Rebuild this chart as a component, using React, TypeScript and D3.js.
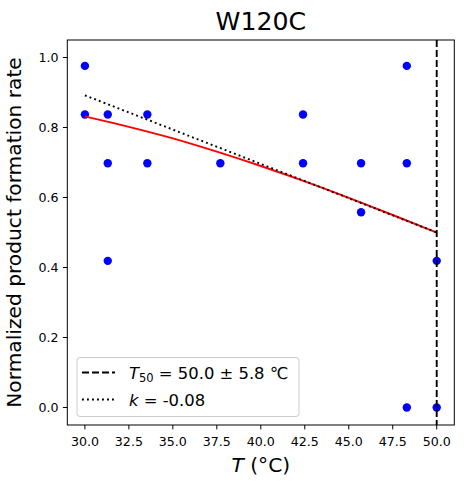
import * as d3 from 'd3';

// measured temperatures (°C) and normalized rates, one entry per replicate
const temps = [30, 30, 31.3, 31.3, 31.3, 33.55, 33.55, 37.7, 42.4, 42.4, 45.7, 45.7, 48.3, 48.3, 48.3, 50, 50];
const rates = [0.976, 0.837, 0.837, 0.698, 0.419, 0.837, 0.698, 0.698, 0.837, 0.698, 0.698, 0.558, 0.976, 0.698, 0.0, 0.419, 0.0];

// fitted curve
const fitT = [30, 32.5, 35, 37.5, 40, 42.5, 45, 47.5, 50];
const fitRate = [0.832, 0.802, 0.769, 0.731, 0.69, 0.646, 0.599, 0.55, 0.5];

// slope line through T50
const slopeT = [30, 50];
const slopeRate = [0.892, 0.5];

const T50 = 50;

const xTicks = [30, 32.5, 35, 37.5, 40, 42.5, 45, 47.5, 50];
const yTicks = [0, 0.2, 0.4, 0.6, 0.8, 1.0];

const W = 464;
const H = 487;
const plot = { left: 67.3, right: 454.3, top: 40, bottom: 425 };
const font = 'DejaVu Sans, sans-serif';

export default function App() {
  const x = d3.scaleLinear().domain([29, 51]).range([plot.left, plot.right]);
  const y = d3.scaleLinear().domain([-0.05, 1.05]).range([plot.bottom, plot.top]);

  const fitLine = d3
    .line<number>()
    .x((_, i) => x(fitT[i]))
    .y((d) => y(d))
    .curve(d3.curveMonotoneX);
  const slopeLine = d3
    .line<number>()
    .x((_, i) => x(slopeT[i]))
    .y((d) => y(d));

  const cx = (plot.left + plot.right) / 2;
  const cy = (plot.top + plot.bottom) / 2;

  // legend
  const lg = { x: 77, y: 357.5, w: 222, h: 59 };
  const rows = [372.5, 399.5];
  const lf = 16.4;

  return (
    <div style={{ position: 'absolute', left: 0, top: 0 }}>
      <svg width={W} height={H} fontFamily={font} style={{ display: 'block' }}>
        <rect width={W} height={H} fill="#fff" />

        {/* points */}
        {temps.map((t, i) => (
          <circle key={i} cx={x(t)} cy={y(rates[i])} r={4.2} fill="#0000ff" />
        ))}

        <path d={fitLine(fitRate) ?? ''} fill="none" stroke="#ff0000" strokeWidth={1.9} />
        <path d={slopeLine(slopeRate) ?? ''} fill="none" stroke="#000" strokeWidth={1.9} strokeDasharray="1.9,3.1" />
        <line x1={x(T50)} x2={x(T50)} y1={plot.top} y2={plot.bottom} stroke="#000" strokeWidth={1.9} strokeDasharray="7,3" />

        {/* frame */}
        <rect
          x={plot.left}
          y={plot.top}
          width={plot.right - plot.left}
          height={plot.bottom - plot.top}
          fill="none"
          stroke="#000"
          strokeWidth={1}
        />

        {/* x axis */}
        {xTicks.map((t) => (
          <g key={t} transform={`translate(${x(t)},${plot.bottom})`}>
            <line y2={4.4} stroke="#000" strokeWidth={1} />
            <text y={21} textAnchor="middle" fontSize={12.6} fill="#000">
              {t.toFixed(1)}
            </text>
          </g>
        ))}

        {/* y axis */}
        {yTicks.map((t) => (
          <g key={t} transform={`translate(${plot.left},${y(t)})`}>
            <line x2={-4.4} stroke="#000" strokeWidth={1} />
            <text x={-8.8} dy="0.36em" textAnchor="end" fontSize={12.6} fill="#000">
              {t.toFixed(1)}
            </text>
          </g>
        ))}

        {/* labels */}
        <text x={cx} y={30} textAnchor="middle" fontSize={25.2} fill="#000">
          W120C
        </text>
        <text x={cx} y={472} textAnchor="middle" fontSize={20.2} fill="#000">
          <tspan fontStyle="italic">T</tspan> (°C)
        </text>
        <text
          transform={`translate(21,${cy}) rotate(-90)`}
          textAnchor="middle"
          fontSize={20.2}
          fill="#000"
        >
          Normalized product formation rate
        </text>

        {/* legend */}
        <rect
          x={lg.x}
          y={lg.y}
          width={lg.w}
          height={lg.h}
          rx={3}
          fill="#fff"
          fillOpacity={0.8}
          stroke="#cccccc"
          strokeWidth={1}
        />
        <line x1={82} x2={115} y1={rows[0]} y2={rows[0]} stroke="#000" strokeWidth={1.9} strokeDasharray="7,3" />
        <line x1={82} x2={115} y1={rows[1]} y2={rows[1]} stroke="#000" strokeWidth={1.9} strokeDasharray="1.9,3.1" />
        <text x={129} y={rows[0] + 6} fontSize={lf} fill="#000">
          <tspan fontStyle="italic">T</tspan>
          <tspan fontSize={11.5} dy={3.3}>50</tspan>
          <tspan dy={-3.3}> = 50.0 ± 5.8 ℃</tspan>
        </text>
        <text x={129} y={rows[1] + 6} fontSize={lf} fill="#000">
          <tspan fontStyle="italic">k</tspan> = -0.08
        </text>
      </svg>
    </div>
  );
}
